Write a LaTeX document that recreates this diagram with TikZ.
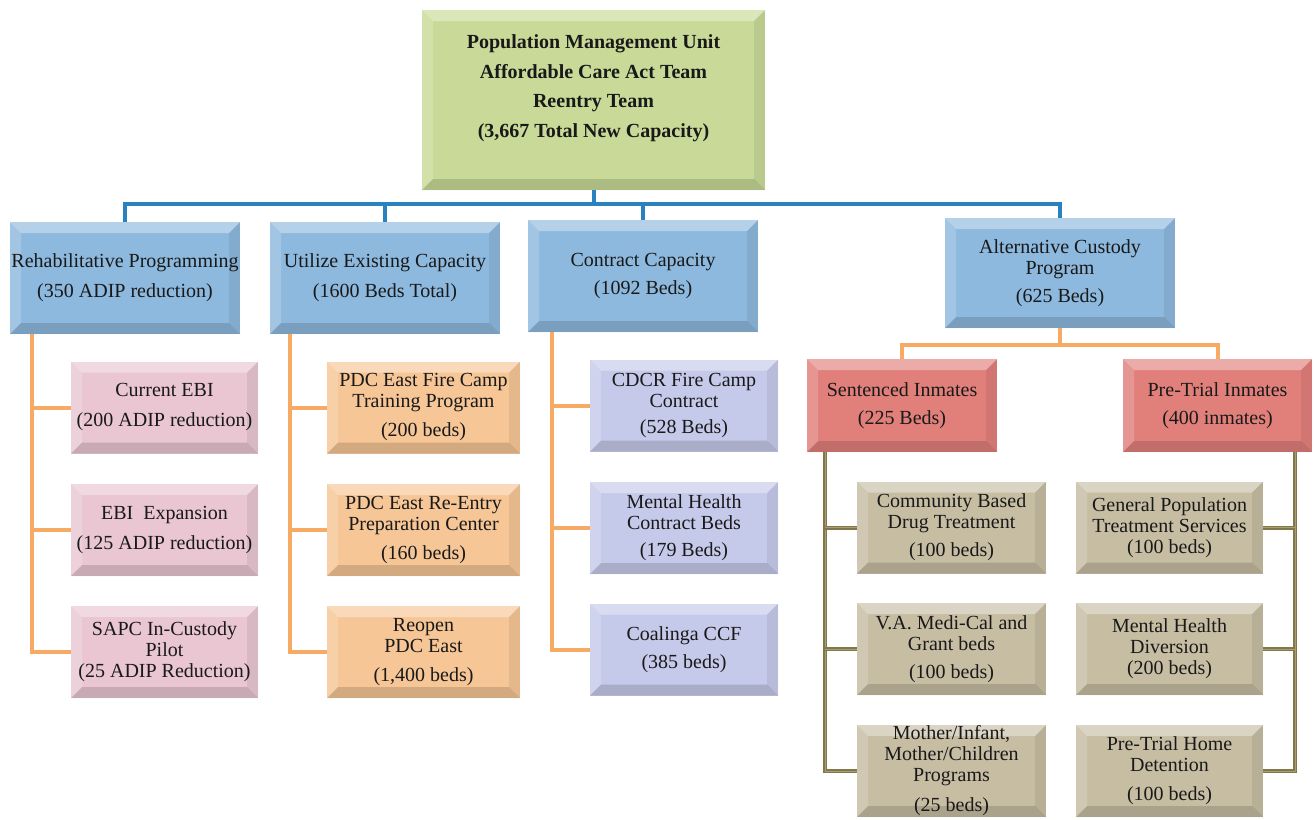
\documentclass[tikz,border=0pt]{standalone}
\usepackage{fontspec}
\setmainfont{Liberation Serif}
\definecolor{cGreen}{RGB}{201,218,152}
\definecolor{cBlue}{RGB}{141,185,222}
\definecolor{cPink}{RGB}{233,198,210}
\definecolor{cOrange}{RGB}{246,198,150}
\definecolor{cLav}{RGB}{198,202,234}
\definecolor{cRed}{RGB}{225,128,123}
\definecolor{cTan}{RGB}{198,189,163}
\definecolor{cBlueLine}{RGB}{40,130,192}
\definecolor{cOrLine}{RGB}{247,170,100}
\definecolor{cOlive}{RGB}{128,120,74}
\definecolor{cOliveLight}{RGB}{168,158,112}
\definecolor{cText}{RGB}{25,25,25}
\newlength{\bevw}\setlength{\bevw}{11pt}
\tikzset{
  bevel/.style={path picture={
    \path (path picture bounding box.north west) coordinate (bbnw)
          (path picture bounding box.north east) coordinate (bbne)
          (path picture bounding box.south west) coordinate (bbsw)
          (path picture bounding box.south east) coordinate (bbse);
    \fill[white,opacity=.35] (bbnw) -- (bbne) -- ([xshift=-\bevw,yshift=-\bevw]bbne) -- ([xshift=\bevw,yshift=-\bevw]bbnw) -- cycle;
    \fill[white,opacity=.18] (bbnw) -- ([xshift=\bevw,yshift=-\bevw]bbnw) -- ([xshift=\bevw,yshift=\bevw]bbsw) -- (bbsw) -- cycle;
    \fill[black,opacity=.14] (bbsw) -- ([xshift=\bevw,yshift=\bevw]bbsw) -- ([xshift=-\bevw,yshift=\bevw]bbse) -- (bbse) -- cycle;
    \fill[black,opacity=.07] (bbne) -- (bbse) -- ([xshift=-\bevw,yshift=\bevw]bbse) -- ([xshift=-\bevw,yshift=-\bevw]bbne) -- cycle;
  }},
  bx/.style={rectangle, inner sep=0pt, outer sep=0pt, align=center, text=cText,
    font=\fontsize{20}{21}\selectfont, bevel},
  lvA/.style={bx, fill=cBlue, minimum width=230pt, minimum height=112pt},
  pk/.style={bx, fill=cPink, minimum width=187pt, minimum height=92pt},
  orb/.style={bx, fill=cOrange, minimum width=193pt, minimum height=92pt},
  lv/.style={bx, fill=cLav, minimum width=188pt, minimum height=92pt},
  rd/.style={bx, fill=cRed, minimum width=190pt, minimum height=93pt},
  tn/.style={bx, fill=cTan, minimum width=189pt, minimum height=92pt},
  bl/.style={draw=cBlueLine, line width=4pt},
  ol/.style={draw=cOrLine, line width=4pt},
  olv/.style={draw=cOlive, double=cOliveLight, line width=1.5pt, double distance=1pt},
}
\begin{document}
\begin{tikzpicture}[x=1pt,y=-1pt]
\useasboundingbox (0,0) rectangle (1314,819);

% top
\node[bx, fill=cGreen, minimum width=343pt, minimum height=180pt,
      font=\bfseries\fontsize{20}{29.5}\selectfont] (top) at (593.5,100)
  {Population Management Unit\\Affordable Care Act Team\\Reentry Team\\(3,667 Total New Capacity)\\[-2pt]\mbox{}};

% level 1
\node[lvA] (rehab) at (125,278) {Rehabilitative Programming\\[9pt](350 ADIP reduction)};
\node[lvA] (util)  at (385,278) {Utilize Existing Capacity\\[9pt](1600 Beds Total)};
\node[lvA] (contr) at (643,276) {Contract Capacity\\[7pt](1092 Beds)};
\node[lvA, minimum height=110pt] (alt) at (1060,273) {Alternative Custody\\Program\\[7pt](625 Beds)};

% rehab children
\node[pk] (p1) at (164.5,407.5) {Current EBI\\[9pt](200 ADIP reduction)};
\node[pk] (p2) at (164.5,530) {EBI\ \ Expansion\\[9pt](125 ADIP reduction)};
\node[pk] (p3) at (164.5,652) {SAPC In-Custody\\Pilot\\(25 ADIP Reduction)};

% utilize children
\node[orb] (o1) at (423.5,407.5) {PDC East Fire Camp\\Training Program\\[8pt](200 beds)};
\node[orb] (o2) at (423.5,530) {PDC East Re-Entry\\Preparation Center\\[8pt](160 beds)};
\node[orb] (o3) at (423.5,652) {Reopen\\PDC East\\[8pt](1,400 beds)};

% contract children
\node[lv] (v1) at (684,405.5) {CDCR Fire Camp\\Contract\\[5pt](528 Beds)};
\node[lv] (v2) at (684,528) {Mental Health\\Contract Beds\\[6pt](179 Beds)};
\node[lv] (v3) at (684,649.5) {Coalinga CCF\\[7pt](385 beds)};

% alternative children
\node[rd] (sent) at (902,405.5) {Sentenced Inmates\\[7pt](225 Beds)};
\node[rd, minimum width=189pt] (pre) at (1217.5,405.5) {Pre-Trial Inmates\\[7pt](400 inmates)};

\node[tn] (t1) at (951.5,527.5) {Community Based\\Drug Treatment\\[7pt](100 beds)};
\node[tn] (t2) at (951.5,649) {V.A. Medi-Cal and\\Grant beds\\[7pt](100 beds)};
\node[tn] (t3) at (951.5,771) {Mother/Infant,\\Mother/Children\\Programs\\[9pt](25 beds)};

\node[tn, minimum width=187pt] (r1) at (1169.5,527.5) {General Population\\Treatment Services\\(100 beds)};
\node[tn, minimum width=187pt] (r2) at (1169.5,649) {Mental Health\\Diversion\\(200 beds)};
\node[tn, minimum width=187pt] (r3) at (1169.5,771) {Pre-Trial Home\\Detention\\[8pt](100 beds)};

% blue bus
\coordinate (bus) at (593.5,204);
\draw[bl] (top.south) -- (bus);
\draw[bl] (rehab.north) |- (bus);
\draw[bl] (util.north) |- (bus);
\draw[bl] (contr.north) |- (bus);
\draw[bl] (alt.north) |- (bus);

% orange trees
\coordinate (rT) at ([xshift=22pt]rehab.south west);
\draw[ol] (rT) |- (p3.west);
\draw[ol] (rT |- p1.west) -- (p1.west);
\draw[ol] (rT |- p2.west) -- (p2.west);

\coordinate (uT) at ([xshift=20pt]util.south west);
\draw[ol] (uT) |- (o3.west);
\draw[ol] (uT |- o1.west) -- (o1.west);
\draw[ol] (uT |- o2.west) -- (o2.west);

\coordinate (cT) at ([xshift=24pt]contr.south west);
\draw[ol] (cT) |- (v3.west);
\draw[ol] (cT |- v1.west) -- (v1.west);
\draw[ol] (cT |- v2.west) -- (v2.west);

\coordinate (abus) at (1060,345);
\draw[ol] (alt.south) -- (abus);
\draw[ol] (sent.north) |- (abus);
\draw[ol] (pre.north) |- (abus);

% olive trees
\coordinate (sT) at ([xshift=18pt]sent.south west);
\draw[olv] (sT) |- (t3.west);
\draw[olv] (sT |- t1.west) -- (t1.west);
\draw[olv] (sT |- t2.west) -- (t2.west);

\coordinate (pT) at ([xshift=-17pt]pre.south east);
\draw[olv] (pT) |- (r3.east);
\draw[olv] (pT |- r1.east) -- (r1.east);
\draw[olv] (pT |- r2.east) -- (r2.east);
\end{tikzpicture}
\end{document}
